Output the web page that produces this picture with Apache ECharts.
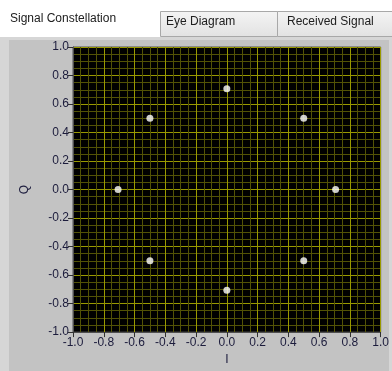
<!DOCTYPE html>
<html>
<head>
<meta charset="utf-8">
<script src="https://cdn.jsdelivr.net/npm/echarts@6/dist/echarts.min.js"></script>
<style>
  html, body { margin: 0; padding: 0; background: #ffffff; }
  #chart { width: 392px; height: 371px; }
</style>
</head>
<body>
<div id="chart"></div>
<script>
// 8-PSK symbol positions (in-phase I, quadrature Q)
const symbolI = [0.0, 0.5, 0.707, 0.5, 0.0, -0.5, -0.707, -0.5];
const symbolQ = [0.707, 0.5, 0.0, -0.5, -0.707, -0.5, 0.0, 0.5];

// Axis range and tick spacing
const axisMin = -1.0;
const axisMax = 1.0;
const axisStep = 0.2;

// Tab captions
const tabNames = ['Signal Constellation', 'Eye Diagram', 'Received Signal'];

const points = symbolI.map((v, k) => [v, symbolQ[k]]);

const font = 'Liberation Sans, DejaVu Sans, sans-serif';

function axisCommon(name) {
  return {
    type: 'value',
    min: axisMin,
    max: axisMax,
    interval: axisStep,
    name: name,
    nameLocation: 'middle',
    nameTextStyle: { color: '#202040', fontFamily: font, fontSize: 12 },
    axisLine: { show: true, onZero: false, lineStyle: { color: '#505050', width: 1 } },
    axisTick: { show: true, length: 5, lineStyle: { color: '#303030' } },
    axisLabel: {
      color: '#1c1c3c', fontFamily: font, fontSize: 12,
      formatter: v => v.toFixed(1)
    },
    splitLine: { show: true, lineStyle: { color: '#999900', width: 1 } },
    minorTick: { show: false, splitNumber: 4 },
    minorSplitLine: { show: true, lineStyle: { color: '#525205', width: 1 } }
  };
}

const chart = echarts.init(document.getElementById('chart'), null, { renderer: 'canvas' });

const xAxis = axisCommon('I');
xAxis.nameGap = 20;
xAxis.axisLabel.margin = 5;

const yAxis = axisCommon('Q');
yAxis.nameGap = 42;
yAxis.nameRotate = 90;
yAxis.axisLabel.margin = 4;

chart.setOption({
  animation: false,
  backgroundColor: '#ffffff',
  graphic: [
    // control panel body
    { type: 'rect', z: -10, shape: { x: 0, y: 37, width: 392, height: 334 }, style: { fill: '#d6d6d6' } },
    { type: 'rect', z: -9, shape: { x: 9, y: 40, width: 380, height: 331 }, style: { fill: '#c3c3c3' } },
    // inactive tabs
    { type: 'rect', z: -8, shape: { x: 160.5, y: 11.5, width: 117, height: 25 },
      style: { fill: new echarts.graphic.LinearGradient(0, 0, 0, 1, [
        { offset: 0, color: '#f4f4f4' }, { offset: 1, color: '#e2e2e2' }]),
        stroke: '#a8a8a8', lineWidth: 1 } },
    { type: 'rect', z: -8, shape: { x: 277.5, y: 11.5, width: 120, height: 25 },
      style: { fill: new echarts.graphic.LinearGradient(0, 0, 0, 1, [
        { offset: 0, color: '#f4f4f4' }, { offset: 1, color: '#e2e2e2' }]),
        stroke: '#a8a8a8', lineWidth: 1 } },
    { type: 'text', z: 5, left: 10, top: 13,
      style: { text: tabNames[0], fill: '#202020', font: '12px ' + font } },
    { type: 'text', z: 5, left: 166, top: 16,
      style: { text: tabNames[1], fill: '#202020', font: '12px ' + font } },
    { type: 'text', z: 5, left: 287, top: 16,
      style: { text: tabNames[2], fill: '#202020', font: '12px ' + font } }
  ],
  grid: {
    left: 73, right: 5, top: 47, bottom: 34,
    show: true, backgroundColor: '#000000', borderColor: '#505050', borderWidth: 1
  },
  xAxis: xAxis,
  yAxis: yAxis,
  series: [{
    type: 'scatter',
    data: points,
    symbol: 'circle',
    symbolSize: 7,
    itemStyle: { color: '#ffffff' },
    z: 10
  }]
});
</script>
</body>
</html>
